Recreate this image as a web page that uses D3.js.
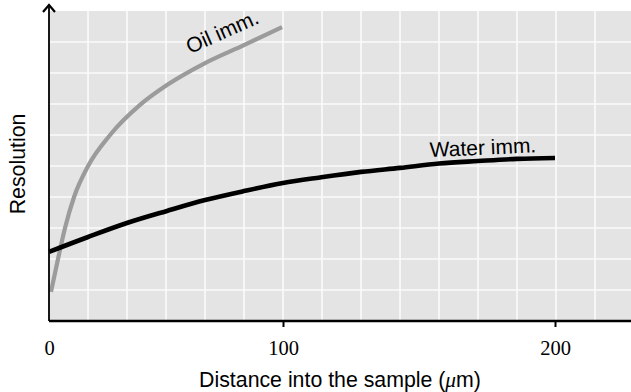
<!DOCTYPE html>
<html>
<head>
<meta charset="utf-8">
<script src="https://cdn.jsdelivr.net/npm/d3@7"></script>
<style>
  html, body { margin: 0; padding: 0; background: #fff; }
  svg { display: block; }
</style>
</head>
<body>
<svg id="chart" width="631" height="392"></svg>
<script>
// Distance into the sample (µm) and relative resolution for each immersion type
const waterDistance = [0, 16.7, 33.3, 50.4, 66.7, 83.3, 100, 113.6, 128.7, 143, 157.4, 171.7, 186, 200];
const waterResolution = [2.23, 2.71, 3.16, 3.55, 3.90, 4.19, 4.45, 4.63, 4.81, 4.94, 5.08, 5.16, 5.23, 5.26];

const oilDistance = [0.85, 3.85, 6.84, 10.7, 16.7, 26.1, 38.9, 50.4, 66.7, 83.3, 99.6];
const oilResolution = [0.94, 2.00, 3.00, 4.00, 5.00, 6.00, 6.97, 7.61, 8.32, 8.90, 9.48];

const xTicks = [0, 100, 200];
const seriesLabels = ["Oil imm.", "Water imm."];

const W = 631, H = 392;
const plotLeft = 49, plotTop = 11, plotBottom = 321;

const svg = d3.select("#chart");

// Schematic distance axis: tick spacing is not uniform
const x = d3.scaleLinear().domain([0, 100, 200]).range([49, 283, 555]);
const y = d3.scaleLinear().domain([0, 10]).range([plotBottom, plotTop]);

// Plot background
svg.append("rect")
  .attr("x", plotLeft).attr("y", plotTop)
  .attr("width", W - plotLeft).attr("height", plotBottom - plotTop)
  .attr("fill", "#e4e4e4");

// Decorative square grid
const cellW = 39, cellH = 31;
const gx = d3.range(plotLeft + cellW, W + 1, cellW);
const gy = d3.range(plotTop + cellH, plotBottom - 5, cellH);
const grid = svg.append("g").attr("stroke", "#fbfbfb").attr("stroke-width", 1.6);
grid.selectAll("line.v").data(gx).join("line")
  .attr("x1", d => d).attr("x2", d => d)
  .attr("y1", plotTop).attr("y2", plotBottom);
grid.selectAll("line.h").data(gy).join("line")
  .attr("x1", plotLeft).attr("x2", W)
  .attr("y1", d => d).attr("y2", d => d);

// Curves
const line = d3.line().curve(d3.curveMonotoneX);
const oilPts = oilDistance.map((d, i) => [x(d), y(oilResolution[i])]);
const waterPts = waterDistance.map((d, i) => [x(d), y(waterResolution[i])]);

svg.append("path")
  .attr("d", line(oilPts))
  .attr("fill", "none").attr("stroke", "#9b9b9b")
  .attr("stroke-width", 4.2).attr("stroke-linecap", "butt");

svg.append("path")
  .attr("d", line(waterPts))
  .attr("fill", "none").attr("stroke", "#000")
  .attr("stroke-width", 4.6).attr("stroke-linecap", "butt");

// X axis
const xAxis = d3.axisBottom(x)
  .tickValues(xTicks)
  .tickFormat(d3.format("d"))
  .tickSize(6)
  .tickSizeOuter(0);
const gAxis = svg.append("g")
  .attr("transform", `translate(0,${plotBottom})`)
  .call(xAxis);
gAxis.select(".domain").remove();
gAxis.append("line")
  .attr("x1", plotLeft).attr("x2", W)
  .attr("y1", 0).attr("y2", 0)
  .attr("stroke", "#000").attr("stroke-width", 2.4);
gAxis.selectAll(".tick line").attr("stroke", "#000").attr("stroke-width", 2)
  .attr("display", d => d === 0 ? "none" : null);
gAxis.selectAll(".tick text")
  .attr("y", 34).attr("dy", 0)
  .attr("fill", "#000")
  .style("font-family", "'Liberation Serif', 'Times New Roman', serif")
  .style("font-size", "20.5px");

// Y axis with arrow head
svg.append("line")
  .attr("x1", plotLeft).attr("x2", plotLeft)
  .attr("y1", plotBottom).attr("y2", 7)
  .attr("stroke", "#000").attr("stroke-width", 1.8);
svg.append("path")
  .attr("d", `M${plotLeft - 6},12 L${plotLeft},5 L${plotLeft + 6},12`)
  .attr("fill", "none").attr("stroke", "#000").attr("stroke-width", 2.2)
  .attr("stroke-linejoin", "miter");

const sans = "'Liberation Sans', Arial, Helvetica, sans-serif";

// Axis titles
const xTitle = svg.append("text")
  .attr("x", 340).attr("y", 387)
  .attr("text-anchor", "middle")
  .style("font-family", sans).style("font-size", "21.3px")
  .attr("fill", "#000");
xTitle.append("tspan").text("Distance into the sample (");
xTitle.append("tspan").text("\u03bc")
  .style("font-family", "'Liberation Serif', serif").style("font-style", "italic");
xTitle.append("tspan").text("m)");

svg.append("text")
  .attr("transform", "translate(25,164) rotate(-90)")
  .attr("text-anchor", "middle")
  .style("font-family", sans).style("font-size", "21.3px")
  .attr("fill", "#000")
  .text("Resolution");

// Curve labels
svg.append("text")
  .attr("transform", "translate(190,54) rotate(-24)")
  .style("font-family", sans).style("font-size", "21px")
  .attr("fill", "#000")
  .text(seriesLabels[0]);

svg.append("text")
  .attr("transform", "translate(430,157) rotate(-2.5)")
  .style("font-family", sans).style("font-size", "21px")
  .attr("fill", "#000")
  .text(seriesLabels[1]);
</script>
</body>
</html>
